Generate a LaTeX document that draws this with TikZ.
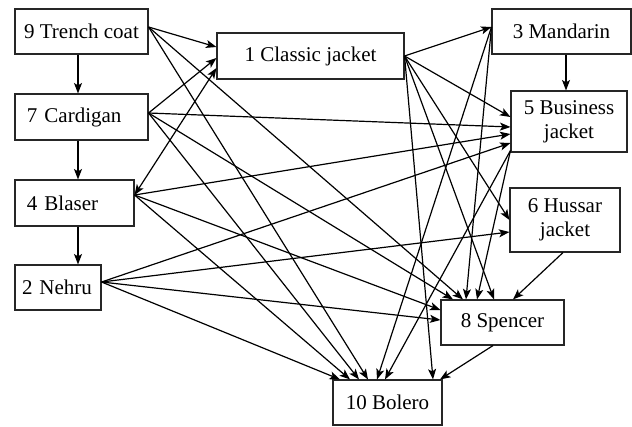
\documentclass[tikz,border=0pt]{standalone}
\usepackage{fontspec}
\setmainfont{Liberation Serif}
\usetikzlibrary{arrows.meta}
\begin{document}
\begin{tikzpicture}[x=1pt,y=-1pt,
  box/.style={draw=black!85, line width=1.1pt, fill=white, rectangle, inner sep=0pt,
    font=\fontsize{21}{24}\selectfont, align=center},
  lbox/.style={box, align=left},
  tip/.style={Stealth[length=10.5pt,width=8pt,inset=2.5pt]},
  arr/.style={line width=1.2pt, -{Stealth[length=10.5pt,width=8pt,inset=2.5pt]}},
  darr/.style={line width=1.2pt, {Stealth[length=10.5pt,width=8pt,inset=2.5pt]}-{Stealth[length=10.5pt,width=8pt,inset=2.5pt]}}]
\useasboundingbox (0,0) rectangle (632,426);
% nodes
\node[box, minimum width=133pt, minimum height=45pt] (n9) at (81.5,31.5) {9 Trench coat};
\node[lbox, minimum width=133pt, minimum height=46pt, text width=109pt] (n7) at (81.5,117) {7 Cardigan};
\node[lbox, minimum width=119pt, minimum height=46pt, text width=95pt] (n4) at (74.5,203) {4 Blaser};
\node[lbox, minimum width=86pt, minimum height=45pt, text width=72pt] (n2) at (58,287.5) {2 Nehru};
\node[box, minimum width=187pt, minimum height=46pt] (n1) at (310.5,56) {1 Classic jacket};
\node[box, minimum width=139pt, minimum height=45pt] (n3) at (561.5,31.5) {3 Mandarin};
\node[box, minimum width=116pt, minimum height=61pt] (n5) at (569,121.5) {5 Business\\jacket};
\node[box, minimum width=110pt, minimum height=64pt] (n6) at (565,220) {6 Hussar\\jacket};
\node[box, minimum width=123pt, minimum height=45pt] (n8) at (502.5,322.5) {8 Spencer};
\node[box, minimum width=109pt, minimum height=45pt] (n10) at (387.5,402.5) {10 Bolero};
% left column
\draw[arr] ([xshift=-3.5pt]n9.south) -- ([xshift=-3.5pt]n7.north);
\draw[arr] ([xshift=-3.5pt]n7.south) -- ([xshift=3.5pt]n4.north);
\draw[arr] ([xshift=3.5pt]n4.south) -- ([xshift=20pt]n2.north);
\draw[arr] ([xshift=4.5pt]n3.south) -- ([xshift=-3pt]n5.north);
% from 9
\draw[arr] ([yshift=4.5pt]n9.east) -- ([yshift=9pt]n1.west);
\draw[arr] ([yshift=4.5pt]n9.east) -- ([xshift=-39.5pt]n8.north);
\draw[arr] ([yshift=4.5pt]n9.east) -- ([xshift=-19.5pt]n10.north);
% from 7
\draw[arr] ([yshift=4pt]n7.east) -- ([yshift=-2pt]n1.west);
\draw[arr] ([yshift=4pt]n7.east) -- ([yshift=-5.5pt]n5.west);
\draw[arr] ([yshift=4pt]n7.east) -- ([xshift=-49.5pt]n8.north);
\draw[arr] ([yshift=4pt]n7.east) -- ([xshift=-28.5pt]n10.north);
% from 4
\draw[darr] ([yshift=8pt]n4.east) -- ([yshift=-12pt]n1.west);
\draw[arr] ([yshift=8pt]n4.east) -- ([yshift=-12.5pt]n5.west);
\draw[arr] ([yshift=8pt]n4.east) -- ([yshift=12.5pt]n8.west);
\draw[arr] ([yshift=8pt]n4.east) -- ([xshift=-37.5pt]n10.north);
% from 2
\draw[arr] ([yshift=5.5pt]n2.east) -- ([yshift=-21.5pt]n5.west);
\draw[arr] ([yshift=5.5pt]n2.east) -- ([yshift=-12pt]n6.west);
\draw[arr] ([yshift=5.5pt]n2.east) -- ([yshift=2.5pt]n8.west);
\draw[arr] ([yshift=5.5pt]n2.east) -- ([xshift=-47.5pt]n10.north);
% from 1
\draw[arr] (n1.east) -- ([yshift=4.5pt]n3.west);
\draw[arr] (n1.east) -- ([yshift=4.5pt]n5.west);
\draw[arr] (n1.east) -- (n6.west);
\draw[arr] (n1.east) -- ([xshift=-8.5pt]n8.north);
\draw[arr] (n1.east) -- ([xshift=45.5pt]n10.north);
% from 3
\draw[arr] ([yshift=4.5pt]n3.west) -- ([xshift=-36.5pt]n8.north);
\draw[arr] ([yshift=4.5pt]n3.west) -- ([xshift=-10.5pt]n10.north);
% from 5
\draw[arr] ([yshift=2pt]n5.south west) -- ([xshift=-25.5pt]n8.north);
\draw[arr] ([yshift=2pt]n5.south west) -- ([xshift=-2.5pt]n10.north);
% from 6, 8
\draw[arr] ([xshift=-2pt]n6.south) -- ([xshift=10.5pt]n8.north);
\draw[arr] ([xshift=-9.5pt]n8.south) -- ([xshift=52.5pt]n10.north);
\end{tikzpicture}
\end{document}
